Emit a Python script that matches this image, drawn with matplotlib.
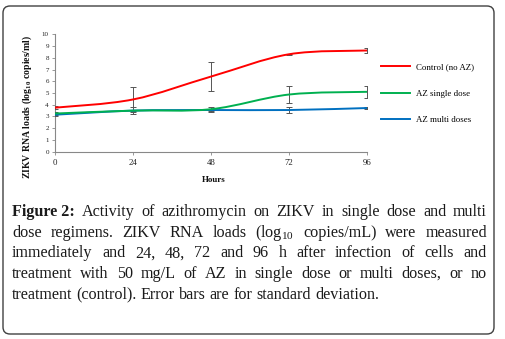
import matplotlib
matplotlib.use("Agg")
import matplotlib.pyplot as plt
import numpy as np
from matplotlib.path import Path
from matplotlib.patches import PathPatch, FancyBboxPatch
from matplotlib.lines import Line2D

hours = [0, 24, 48, 72, 96]
control = [3.75, 4.45, 6.4, 8.3, 8.62]
control_sd = [0.15, 1.05, 1.25, 0.05, 0.25]
single = [3.25, 3.5, 3.62, 4.87, 5.1]
single_sd = [0.15, 0.3, 0.22, 0.7, 0.5]
multi = [3.15, 3.5, 3.55, 3.55, 3.72]
multi_sd = [0.1, 0.05, 0.1, 0.22, 0.05]
series_names = ["Control (no AZ)", "AZ single dose", "AZ multi doses"]
colors = ["#FF0000", "#00B050", "#0070C0"]

plt.rcParams['mathtext.fontset'] = 'custom'
plt.rcParams['mathtext.rm'] = 'Liberation Serif'
plt.rcParams['mathtext.bf'] = 'Liberation Serif:bold'

fig = plt.figure(figsize=(5.05, 3.39), dpi=100)
serif = 'Liberation Serif'

# border
border = FancyBboxPatch((0.03, 0.05), 4.91, 3.28, boxstyle="round,pad=0,rounding_size=0.07",
                        transform=fig.dpi_scale_trans, facecolor='none', edgecolor='#404040',
                        lw=1.0, zorder=5)
fig.patches.append(border)

ax = fig.add_axes([55/505, 1-151.7/339, (367-55)/505, (151.7-34.3)/339])
ax.patch.set_alpha(0)
ax.set_xlim(0, 96)
ax.set_ylim(0, 10)


def smooth_path(xs, ys):
    pts = np.column_stack([xs, ys]).astype(float)
    n = len(pts)
    verts = [pts[0]]
    codes = [Path.MOVETO]
    for i in range(n-1):
        p0 = pts[i-1] if i > 0 else pts[i]
        p1 = pts[i]
        p2 = pts[i+1]
        p3 = pts[i+2] if i+2 < n else pts[i+1]
        c1 = p1 + (p2 - p0) / 6
        c2 = p2 - (p3 - p1) / 6
        verts += [c1, c2, p2]
        codes += [Path.CURVE4]*3
    return Path(verts, codes)


for i, (vals, sd) in enumerate(zip([control, single, multi], [control_sd, single_sd, multi_sd])):
    eb = ax.errorbar(hours, vals, yerr=sd, fmt='none', ecolor='#555555', elinewidth=0.7,
                     capsize=2, capthick=0.7, zorder=2)
    for coll in eb[2]:
        coll.set_clip_on(False)
for vals, col in zip([multi, single, control], [colors[2], colors[1], colors[0]]):
    ax.add_patch(PathPatch(smooth_path(hours, vals), facecolor='none', edgecolor=col,
                           lw=1.4, zorder=3, capstyle='butt'))

for s in ['top', 'right']:
    ax.spines[s].set_visible(False)
for s in ['left', 'bottom']:
    ax.spines[s].set_color('#888888')
    ax.spines[s].set_linewidth(0.8)
    ax.spines[s].set_zorder(1)
ax.set_xticks(hours)
ax.set_yticks(range(0, 11))
ax.tick_params(axis='both', colors='#888888', length=2.5, width=0.6, labelcolor='#222222')
ax.tick_params(axis='y', pad=2)
ax.tick_params(axis='x', pad=3)
for lab in ax.get_xticklabels():
    lab.set_fontfamily(serif); lab.set_fontsize(6.3)
for lab in ax.get_yticklabels():
    lab.set_fontfamily(serif); lab.set_fontsize(5.0)
ax.set_xlabel("Hours", fontfamily=serif, fontsize=6.5, fontweight='bold', color='#111111')
ax.xaxis.set_label_coords((214-55)/312, (151.7-180)/117.4)
ax.xaxis.label.set_va('center')
ax.set_ylabel(r"ZIKV RNA loads (log$_{\mathbf{10}}$ copies/ml)", fontfamily=serif, fontsize=7.0,
              fontweight='bold', color='#111111')
ax.yaxis.set_label_coords((27-55)/312, (151.7-106.5)/117.4)
ax.yaxis.label.set_va('center')

handles = [Line2D([0], [0], color=c, lw=1.4) for c in colors]
leg = fig.legend(handles, series_names, loc='upper left', bbox_to_anchor=(373/505, 1-55/339),
                 frameon=False, prop={'family': serif, 'size': 6.4}, handlelength=3.3,
                 labelspacing=2.05, handletextpad=0.6)

# caption with justification
renderer = fig.canvas.get_renderer()
cap_lines = [
    ["Figure 2:", "Activity", "of", "azithromycin", "on", "ZIKV", "in", "single", "dose", "and", "multi"],
    ["dose", "regimens.", "ZIKV", "RNA", "loads", r"(log$_{10}$", "copies/mL)", "were", "measured"],
    ["immediately", "and", "24,", "48,", "72", "and", "96", "h", "after", "infection", "of", "cells", "and"],
    ["treatment", "with", "50", "mg/L", "of", "AZ", "in", "single", "dose", "or", "multi", "doses,", "or", "no"],
    ["treatment", "(control).", "Error", "bars", "are", "for", "standard", "deviation."],
]
x_left, x_right = 12, 487
baselines = [216, 236.7, 257.3, 278, 298.7]
fs = 11.6
for li, (words, yb) in enumerate(zip(cap_lines, baselines)):
    objs = []
    for w in words:
        weight = 'bold' if w == "Figure 2:" else 'normal'
        t = fig.text(0, 1 - yb/339, w, fontfamily=serif, fontsize=fs, fontweight=weight,
                     va='baseline', ha='left', color='#1a1a1a')
        objs.append(t)
    widths = [o.get_window_extent(renderer).width for o in objs]
    if li < len(cap_lines) - 1:
        gap = (x_right - x_left - sum(widths)) / (len(objs) - 1)
    else:
        gap = fs * 0.25 * 100 / 72
    x = x_left
    for o, w in zip(objs, widths):
        o.set_x(x / 505)
        x += w + gap

fig.savefig("out.png", dpi=100)
